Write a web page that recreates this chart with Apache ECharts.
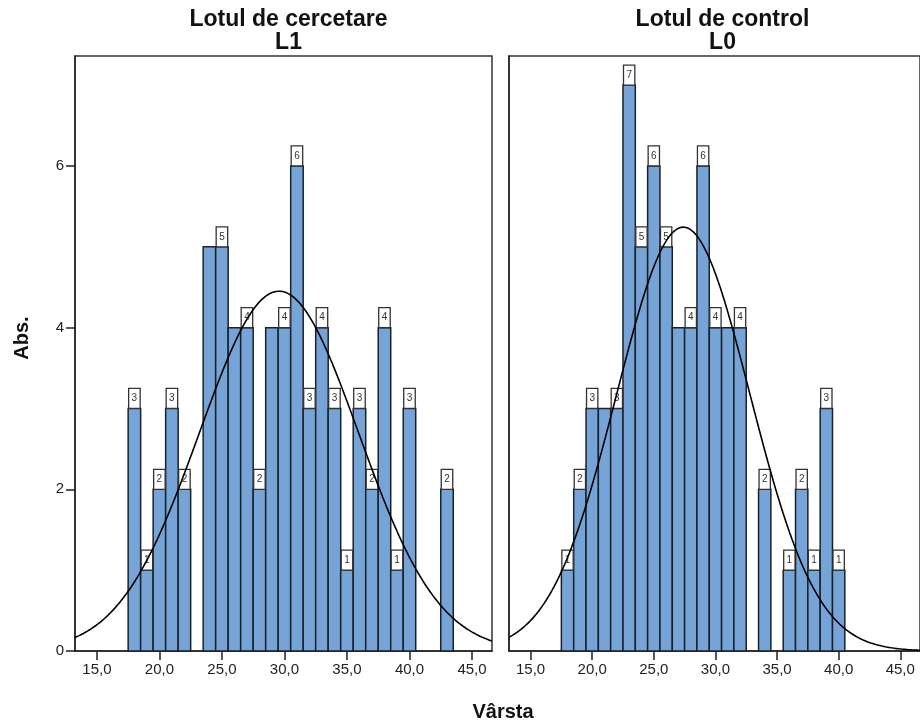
<!DOCTYPE html>
<html>
<head>
<meta charset="utf-8">
<script src="https://cdn.jsdelivr.net/npm/echarts@6/dist/echarts.min.js"></script>
<style>
html,body{margin:0;padding:0;background:#fff;}
#chart{width:920px;height:726px;}
</style>
</head>
<body>
<div id="chart"></div>
<script>
// ---- data ----
const panelTitles = ['Lotul de cercetare\nL1', 'Lotul de control\nL0'];
const xTickValues = [15, 20, 25, 30, 35, 40, 45];
const yTickValues = [0, 2, 4, 6];

const agesL1   = [18,19,20,21,22,24,25,26,27,28,29,30,31,32,33,34,35,36,37,38,39,40,43];
const countsL1 = [ 3, 1, 2, 3, 2, 5, 5, 4, 4, 2, 4, 4, 6, 3, 4, 3, 1, 3, 2, 4, 1, 3, 2];

const agesL0   = [18,19,20,21,22,23,24,25,26,27,28,29,30,31,32,34,36,37,38,39,40];
const countsL0 = [ 1, 2, 3, 3, 3, 7, 5, 6, 5, 4, 4, 6, 4, 4, 4, 2, 1, 2, 1, 3, 1];

const xMin = 13.25, xMax = 46.6, yMax = 7.36;
const binWidth = 1;

// ---- helpers ----
function pairs(ages, counts) { return ages.map((a, i) => [a, counts[i]]); }

// SPSS hides a count label when it would overlap the label of the adjacent bar on its right
function labelFlags(ages, counts) {
  const show = new Array(ages.length).fill(true);
  for (let i = ages.length - 2; i >= 0; i--) {
    if (ages[i + 1] === ages[i] + 1 && counts[i + 1] === counts[i] && show[i + 1]) show[i] = false;
  }
  return show;
}

// fitted normal curve (as in the SPSS histogram): mean and sd from the counts
function normalCurve(ages, counts) {
  let n = 0, s = 0, s2 = 0;
  ages.forEach((a, i) => { n += counts[i]; s += a * counts[i]; s2 += a * a * counts[i]; });
  const mean = s / n;
  const sd = Math.sqrt((s2 - s * s / n) / (n - 1));
  const pts = [];
  for (let k = 0; k <= 400; k++) {
    const x = xMin + (xMax - xMin) * k / 400;
    const z = (x - mean) / sd;
    pts.push([x, n * binWidth / (sd * Math.sqrt(2 * Math.PI)) * Math.exp(-0.5 * z * z)]);
  }
  return pts;
}

const FONT = "'Liberation Sans', Arial, sans-serif";
const BAR_FILL = '#77a4d6';
const BAR_EDGE = '#18222c';

function barSeries(idx, ages, counts) {
  return {
    type: 'custom', xAxisIndex: idx, yAxisIndex: idx,
    data: pairs(ages, counts),
    renderItem: function (params, api) {
      const x = api.value(0), v = api.value(1);
      const p0 = api.coord([x - binWidth / 2, v]);
      const p1 = api.coord([x + binWidth / 2, 0]);
      return {
        type: 'rect',
        shape: { x: p0[0], y: p0[1], width: p1[0] - p0[0], height: p1[1] - p0[1] },
        style: { fill: BAR_FILL, stroke: BAR_EDGE, lineWidth: 1.5 }
      };
    },
    z: 2
  };
}

function labelSeries(idx, ages, counts) {
  const show = labelFlags(ages, counts);
  const data = pairs(ages, counts).map((d, i) => [d[0], d[1], show[i] ? 1 : 0]);
  return {
    type: 'custom', xAxisIndex: idx, yAxisIndex: idx,
    data: data,
    renderItem: function (params, api) {
      if (!api.value(2)) return null;
      const x = api.value(0), v = api.value(1);
      const p0 = api.coord([x - binWidth / 2, v]);
      const p1 = api.coord([x + binWidth / 2, v]);
      const w = p1[0] - p0[0], h = 20;
      return {
        type: 'group',
        children: [
          { type: 'rect', shape: { x: p0[0] + 0.5, y: p0[1] - h, width: w - 1, height: h },
            style: { fill: '#ffffff', stroke: '#333', lineWidth: 1.3 } },
          { type: 'text', x: p0[0] + w / 2, y: p0[1] - h / 2,
            style: { text: String(v), fill: '#333', font: '10px ' + FONT, align: 'center', verticalAlign: 'middle' } }
        ]
      };
    },
    z: 3
  };
}

function curveSeries(idx, ages, counts) {
  return {
    type: 'line', xAxisIndex: idx, yAxisIndex: idx,
    data: normalCurve(ages, counts),
    showSymbol: false, smooth: false,
    lineStyle: { color: '#000', width: 1.6 },
    silent: true, z: 4
  };
}

function xAxis(idx) {
  return {
    type: 'value', gridIndex: idx, min: xMin, max: xMax,
    axisLine: { show: true, onZero: false, lineStyle: { color: '#222', width: 1.5 } },
    axisTick: { show: true, length: 9, lineStyle: { color: '#222', width: 1.5 }, customValues: xTickValues },
    axisLabel: { show: true, margin: 11, color: '#222', fontSize: 15, fontFamily: FONT,
      customValues: xTickValues,
      formatter: v => v.toFixed(1).replace('.', ',') },
    splitLine: { show: false }
  };
}

function yAxis(idx) {
  return {
    type: 'value', gridIndex: idx, min: 0, max: yMax,
    axisLine: { show: true, lineStyle: { color: '#222', width: 1.5 } },
    axisTick: { show: idx === 0, length: 9, lineStyle: { color: '#222', width: 1.5 }, customValues: yTickValues },
    axisLabel: { show: idx === 0, margin: 11, color: '#222', fontSize: 15, fontFamily: FONT,
      customValues: yTickValues },
    splitLine: { show: false }
  };
}

const chart = echarts.init(document.getElementById('chart'), null, { renderer: 'canvas' });
chart.setOption({
  backgroundColor: '#ffffff',
  animation: false,
  title: [
    { text: panelTitles[0], left: 283.5, top: 3, textAlign: 'center',
      textStyle: { fontFamily: FONT, fontWeight: 'bold', fontSize: 23, color: '#111', lineHeight: 23 } },
    { text: panelTitles[1], left: 717.5, top: 3, textAlign: 'center',
      textStyle: { fontFamily: FONT, fontWeight: 'bold', fontSize: 23, color: '#111', lineHeight: 23 } }
  ],
  grid: [
    { left: 75, top: 56, width: 417, height: 595, show: true, borderColor: '#333', borderWidth: 1.5, containLabel: false },
    { left: 509, top: 56, width: 417, height: 595, show: true, borderColor: '#333', borderWidth: 1.5, containLabel: false }
  ],
  xAxis: [xAxis(0), xAxis(1)],
  yAxis: [yAxis(0), yAxis(1)],
  series: [
    barSeries(0, agesL1, countsL1), labelSeries(0, agesL1, countsL1), curveSeries(0, agesL1, countsL1),
    barSeries(1, agesL0, countsL0), labelSeries(1, agesL0, countsL0), curveSeries(1, agesL0, countsL0)
  ],
  graphic: [
    { type: 'text', x: 22, y: 338, rotation: Math.PI / 2,
      style: { text: 'Abs.', font: 'bold 20px ' + FONT, fill: '#111', align: 'center', verticalAlign: 'middle' } },
    { type: 'text', x: 503, y: 712,
      style: { text: 'Vârsta', font: 'bold 20px ' + FONT, fill: '#111', align: 'center', verticalAlign: 'middle' } }
  ]
});
</script>
</body>
</html>
